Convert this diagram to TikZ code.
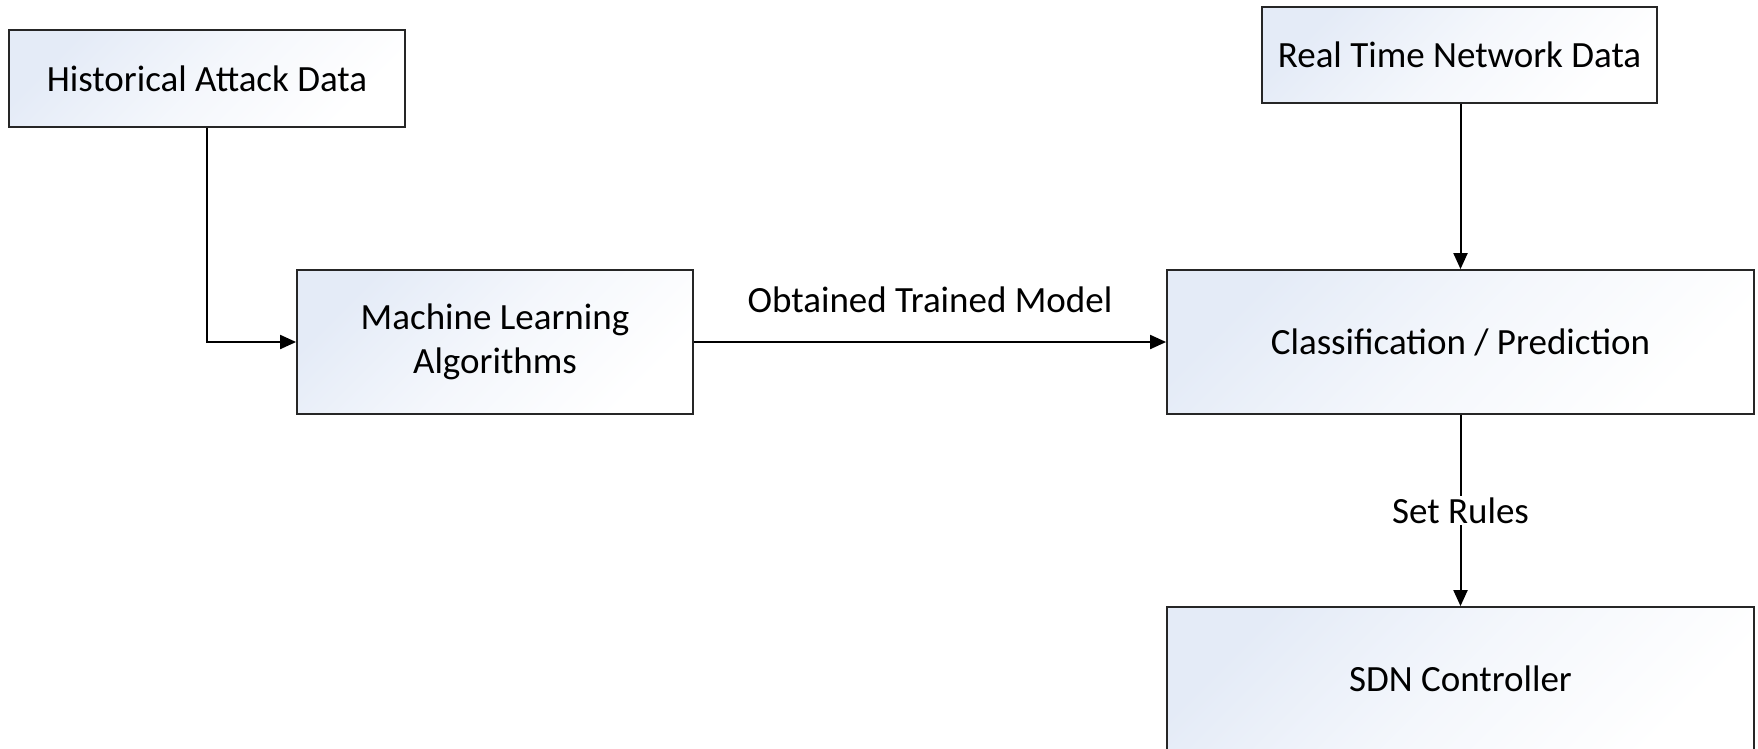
\documentclass[tikz,border=0pt]{standalone}
\usepackage{fontspec}
\setmainfont{Carlito}
\usetikzlibrary{arrows.meta}
\definecolor{gcol}{RGB}{228,235,247}
\tikzset{
  box/.style={draw=black!85, line width=1.8pt, top color=gcol, bottom color=white, middle color=white!60!gcol, shading angle=45,
    minimum width=#1, inner sep=0pt, align=center, font=\fontsize{37}{44}\selectfont},
  conn/.style={draw=black, line width=2pt, -{Triangle[length=16pt,width=14pt]}},
  lbl/.style={font=\fontsize{37}{44}\selectfont, inner sep=2pt}
}
\begin{document}
\begin{tikzpicture}[x=1pt,y=-1pt]
\useasboundingbox (0,0) rectangle (1758,748);
\begin{scope}
\clip (0,0) rectangle (1758,748);
\node[box=396pt, minimum height=97pt] (hist) at (207,78.5) {Historical Attack Data};
\node[box=395pt, minimum height=96pt] (rt) at (1459.5,55) {Real Time Network Data};
\node[box=396pt, minimum height=144pt] (ml) at (495,342) {Machine Learning\\Algorithms};
\node[box=587pt, minimum height=144pt] (cp) at (1460.5,342) {Classification / Prediction};
\node[box=587pt, minimum height=144pt] (sdn) at (1460.5,679) {SDN Controller};
\end{scope}
\coordinate (bend) at (hist.south |- ml.west);
\draw[conn] (hist.south) -- (bend) -- (ml.west);
\draw[conn] (ml.east) -- node[lbl, above=26pt] {Obtained Trained Model} (cp.west);
\draw[conn] (rt.south -| cp.north) -- (cp.north);
\draw[conn] (cp.south) -- node[lbl, fill=white] {Set Rules} (sdn.north);
\end{tikzpicture}
\end{document}
